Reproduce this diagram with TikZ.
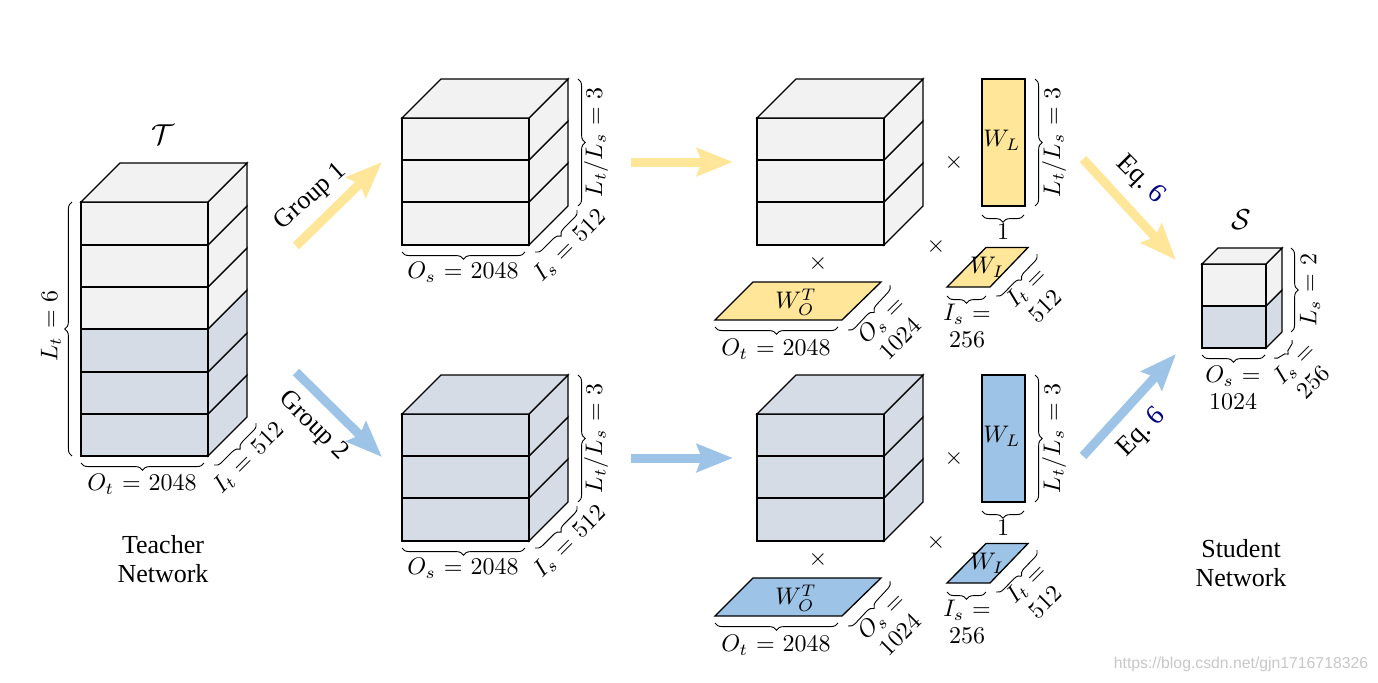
\documentclass[tikz,border=0pt]{standalone}
\usepackage{fontspec}
\usepackage{amsmath}
\newfontfamily\timesf{Liberation Serif}
\newfontfamily\wmf{Liberation Sans}
\usetikzlibrary{arrows.meta,decorations.pathreplacing}
\definecolor{ayellow}{HTML}{FFE699}
\definecolor{ablue}{HTML}{9DC3E6}
\definecolor{lgrey}{HTML}{F2F2F2}
\definecolor{lblue}{HTML}{D6DCE5}
\definecolor{eqnavy}{HTML}{000080}
\thickmuskip=6mu
\newcommand\stackcube[5]{%
  \foreach \a/\b/\c in {#5}{%
    \draw[cubeline,fill=\c] (#1+#3,\a) -- ++(#4,-#4) -- ++(0,\b-\a) -- ++(-#4,#4) -- cycle;
    \draw[cubeline,fill=\c] (#1,\a) rectangle (#1+#3,\b);
  }%
  \draw[cubeline,fill=lgrey,#2] (#1,\firsttop) -- ++(#4,-#4) -- ++(#3,0) -- ++(-#4,#4) -- cycle;
}
\newcommand\bracepair[4]{\draw[bracel] (#1,#2) -- (#3,#4);}
\tikzset{
  cubeline/.style={line width=.55pt,draw=black},
  bracel/.style={line width=.38pt,black,decorate,decoration={brace,amplitude=3pt}},
  lab/.style={font=\fontsize{10}{11.25}\selectfont,inner sep=0pt,align=center,text=black},
  captxt/.style={font=\timesf\fontsize{10.83}{12.4}\selectfont,inner sep=0pt,align=center},
  eqtxt/.style={font=\timesf\fontsize{11.3}{13}\selectfont,inner sep=0pt,align=center},
  symb/.style={font=\fontsize{12}{14}\selectfont,inner sep=0pt},
  timesmark/.style={font=\fontsize{10}{12}\selectfont,inner sep=0pt},
  yarrow/.style={line width=3.75pt,ayellow,-{Stealth[length=15pt,width=11.5pt,inset=2pt]}},
  barrow/.style={line width=3.75pt,ablue,-{Stealth[length=15pt,width=11.5pt,inset=2pt]}},
  plate/.style={line width=.55pt,draw=black},
}
\begin{document}
\begin{tikzpicture}[x=.41667pt,y=-.41667pt]
\useasboundingbox (0,0) rectangle (1378,682);

% Teacher
\def\firsttop{202}
\stackcube{81}{}{127}{39}{414/456/lblue,372/414/lblue,329/372/lblue,287/329/lgrey,245/287/lgrey,202/245/lgrey}
\node[symb] (T) at (163,135) {$\mathcal{T}$};
\bracepair{72}{456}{72}{202}
\node[lab,rotate=90] (Lt) at (51,326) {$L_t=6$};
\bracepair{204}{463}{81}{463}
\node[lab] (Ot) at (142,484) {$O_t=2048$};
\bracepair{256}{423}{214}{465}
\node[lab,rotate=45] (It) at (249,458) {$I_t=512$};
\node[captxt] (teacher) at (163,559) {Teacher\\Network};

% Group 1 cube
\def\firsttop{118}
\stackcube{402}{}{127}{39}{202/245/lgrey,160/202/lgrey,118/160/lgrey}
\bracepair{578}{79}{578}{206}
\node[lab,rotate=90] (g1L) at (596,142) {$L_t/L_s=3$};
\bracepair{525}{252}{402}{252}
\node[lab] (g1O) at (463,272) {$O_s=2048$};
\bracepair{577}{210}{535}{252}
\node[lab,rotate=45] (g1I) at (570,246) {$I_s=512$};

% Group 2 cube
\def\firsttop{414}
\stackcube{402}{fill=lblue}{127}{39}{498/541/lblue,456/498/lblue,414/456/lblue}
\bracepair{578}{375}{578}{502}
\node[lab,rotate=90] (g2L) at (596,438) {$L_t/L_s=3$};
\bracepair{525}{548}{402}{548}
\node[lab] (g2O) at (463,568) {$O_s=2048$};
\bracepair{577}{506}{535}{548}
\node[lab,rotate=45] (g2I) at (570,542) {$I_s=512$};

% Middle upper
\def\firsttop{118}
\stackcube{757}{}{127}{39}{202/245/lgrey,160/202/lgrey,118/160/lgrey}
\draw[plate,fill=ayellow] (982,79) rectangle (1025,206);
\node[lab] (wl1) at (1002,140) {$W_L$};
\bracepair{1035}{79}{1035}{206}
\node[lab,rotate=90] (wl1L) at (1054,142) {$L_t/L_s=3$};
\bracepair{1024}{215}{982}{215}
\node[lab] (one1) at (1003,232) {$1$};
\draw[plate,fill=ayellow] (715,320) -- (842,320) -- (881,282) -- (753,282) -- cycle;
\node[lab] (wo1) at (796,302) {$W_O^T$};
\bracepair{838}{327}{715}{327}
\node[lab] (o1) at (776,349) {$O_t=2048$};
\bracepair{890}{285}{848}{330}
\node[lab,rotate=45] (o1s) at (890,329) {$O_s=$\\$1024$};
\draw[plate,fill=ayellow] (947,287) -- (990,287) -- (1028,247.5) -- (986,247.5) -- cycle;
\node[lab] (wi1) at (987,267) {$W_I$};
\bracepair{986}{296}{947}{296}
\node[lab] (i1) at (967,326) {$I_s=$\\$256$};
\bracepair{1037}{254}{996}{296}
\node[lab,rotate=45] (i1t) at (1035,296) {$I_t=$\\$512$};
\node[timesmark] (x1a) at (954,162) {$\times$};
\node[timesmark] (x1b) at (936,246) {$\times$};
\node[timesmark] (x1c) at (818,263) {$\times$};

% Middle lower
\def\firsttop{414}
\stackcube{757}{fill=lblue}{127}{39}{498/541/lblue,456/498/lblue,414/456/lblue}
\draw[plate,fill=ablue] (982,375) rectangle (1025,502);
\node[lab] (wl2) at (1002,436) {$W_L$};
\bracepair{1035}{375}{1035}{502}
\node[lab,rotate=90] (wl2L) at (1054,438) {$L_t/L_s=3$};
\bracepair{1024}{511}{982}{511}
\node[lab] (one2) at (1003,528) {$1$};
\draw[plate,fill=ablue] (715,616) -- (842,616) -- (881,578) -- (753,578) -- cycle;
\node[lab] (wo2) at (796,598) {$W_O^T$};
\bracepair{838}{623}{715}{623}
\node[lab] (o2) at (776,645) {$O_t=2048$};
\bracepair{890}{581}{848}{626}
\node[lab,rotate=45] (o2s) at (890,625) {$O_s=$\\$1024$};
\draw[plate,fill=ablue] (947,583) -- (990,583) -- (1028,543.5) -- (986,543.5) -- cycle;
\node[lab] (wi2) at (987,563) {$W_I$};
\bracepair{986}{592}{947}{592}
\node[lab] (i2) at (967,622) {$I_s=$\\$256$};
\bracepair{1037}{550}{996}{592}
\node[lab,rotate=45] (i2t) at (1035,592) {$I_t=$\\$512$};
\node[timesmark] (x2a) at (954,458) {$\times$};
\node[timesmark] (x2b) at (936,542) {$\times$};
\node[timesmark] (x2c) at (818,559) {$\times$};

% Student
\def\firsttop{264}
\stackcube{1202}{}{64}{16}{306/348/lblue,264/306/lgrey}
\node[symb] (S) at (1241,220) {$\mathcal{S}$};
\bracepair{1291}{248}{1291}{332}
\node[lab,rotate=90] (Ls) at (1310,290) {$L_s=2$};
\bracepair{1265}{355}{1202}{355}
\node[lab] (Os) at (1233,388) {$O_s=$\\$1024$};
\bracepair{1292}{340}{1274}{358}
\node[lab,rotate=45] (Is) at (1303,372) {$I_s=$\\$256$};
\node[captxt] (student) at (1241,563) {Student\\Network};

% Arrows
\coordinate (a1s) at (296,246); \coordinate (a1e) at (382,162);
\coordinate (a2s) at (296,372); \coordinate (a2e) at (382,457);
\coordinate (a3s) at (631,162); \coordinate (a3e) at (733,162);
\coordinate (a4s) at (631,458); \coordinate (a4e) at (733,458);
\coordinate (a5s) at (1083,159); \coordinate (a5e) at (1176,260);
\coordinate (a6s) at (1083,456); \coordinate (a6e) at (1176,354);
\draw[yarrow] (a1s) -- (a1e);
\draw[barrow] (a2s) -- (a2e);
\draw[yarrow] (a3s) -- (a3e);
\draw[barrow] (a4s) -- (a4e);
\draw[yarrow] (a5s) -- (a5e);
\draw[barrow] (a6s) -- (a6e);
\node[captxt,rotate=42] (g1) at (311,197) {Group 1};
\node[captxt,rotate=-45] (g2) at (313,426) {Group 2};
\node[eqtxt,rotate=-45] (e1) at (1140,180) {Eq.\ \textcolor{eqnavy}{6}};
\node[eqtxt,rotate=45] (e2) at (1142,433) {Eq.\ \textcolor{eqnavy}{6}};

\node[font=\wmf\fontsize{6.57}{8}\selectfont,text=black!22,inner sep=0pt] (wm) at (1241,664) {https://blog.csdn.net/gjn1716718326};
\end{tikzpicture}
\end{document}
